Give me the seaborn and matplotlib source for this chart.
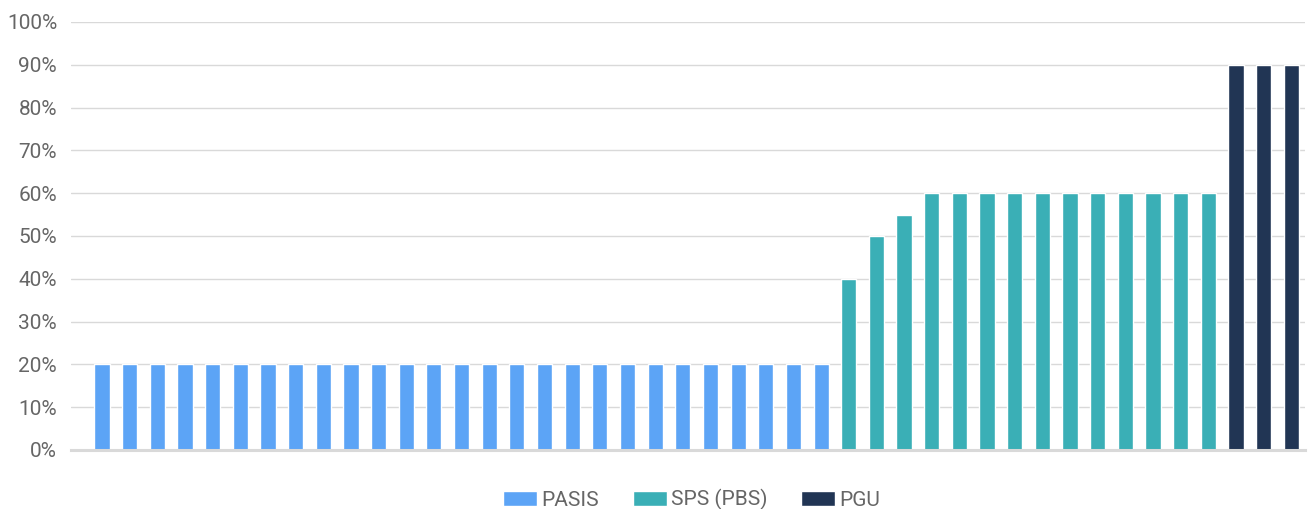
import matplotlib
matplotlib.use("Agg")
import matplotlib.pyplot as plt
from matplotlib.patches import Patch
from matplotlib.ticker import PercentFormatter, MultipleLocator
import pandas as pd
import seaborn as sns

# Subsidy coverage share per beneficiary group
pasis_values = [20] * 27
sps_values = [40, 50, 55] + [60] * 11
pgu_values = [90, 90, 90]

series_names = ["PASIS", "SPS (PBS)", "PGU"]
series_colors = ["#5CA4F6", "#3AAFB6", "#213554"]

values = pasis_values + sps_values + pgu_values
groups = (["PASIS"] * len(pasis_values)
          + ["SPS (PBS)"] * len(sps_values)
          + ["PGU"] * len(pgu_values))
df = pd.DataFrame({"pos": range(len(values)), "value": values, "group": groups})

sns.set_theme(style="white")
plt.rcParams["font.family"] = ["Roboto", "DejaVu Sans"]

fig = plt.figure(figsize=(13.15, 5.09), dpi=100)
ax = fig.add_axes([0.054, 0.116, 0.9385, 0.841])

sns.barplot(data=df, x="pos", y="value", hue="group", hue_order=series_names,
            palette=series_colors, dodge=False, width=0.55, saturation=1,
            legend=False, ax=ax, zorder=3)

ax.set_ylim(0, 100)
ax.set_xlim(-1.12, len(values) - 0.5)
ax.yaxis.set_major_locator(MultipleLocator(10))
ax.yaxis.set_major_formatter(PercentFormatter(decimals=0))
ax.grid(axis="y", color="#D9D9D9", linewidth=1, zorder=0)
ax.set_xticks([])
ax.set_xlabel("")
ax.set_ylabel("")
for side in ["top", "right", "left"]:
    ax.spines[side].set_visible(False)
ax.spines["bottom"].set_color("#D9D9D9")
ax.spines["bottom"].set_linewidth(2.2)
ax.spines["bottom"].set_zorder(4)
ax.tick_params(axis="y", length=0, pad=10, labelsize=15, labelcolor="#666666")

handles = [Patch(facecolor=c, label=n) for n, c in zip(series_names, series_colors)]
leg = fig.legend(handles=handles, loc="center", bbox_to_anchor=(0.526, 0.018),
                 ncol=3, frameon=False, fontsize=15, handlelength=1.65,
                 handleheight=0.7, handletextpad=0.2, columnspacing=1.6)
for t in leg.get_texts():
    t.set_color("#666666")

fig.savefig("out.png", dpi=100, facecolor="white")
